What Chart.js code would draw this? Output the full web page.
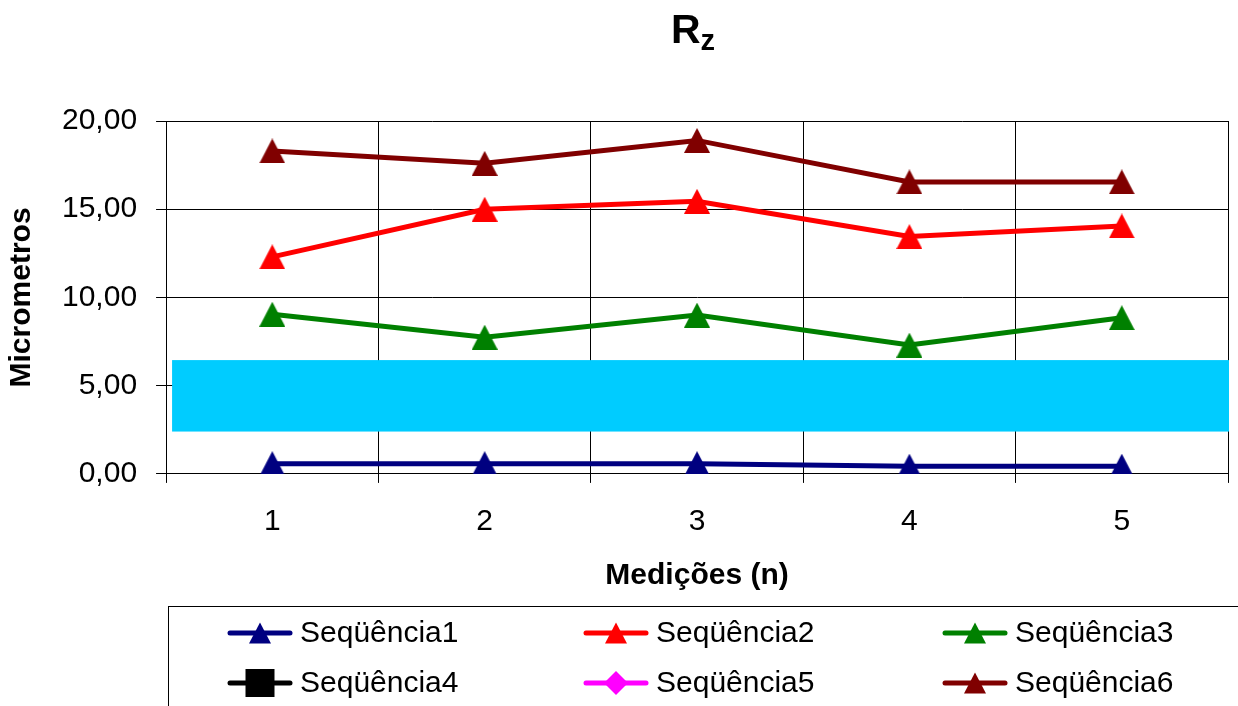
<!DOCTYPE html>
<html>
<head>
<meta charset="utf-8">
<title>Rz</title>
<script src="https://cdn.jsdelivr.net/npm/chart.js@4.4.1/dist/chart.umd.min.js"></script>
<style>
  html, body { margin: 0; padding: 0; background: #ffffff; }
  #wrap { width: 1238px; height: 706px; position: relative; overflow: hidden; }
</style>
</head>
<body>
<div id="wrap"><canvas id="chart" width="1238" height="706"></canvas></div>
<script>
// Measurement index (n)
const categories = ['1', '2', '3', '4', '5'];

// Rz values in micrometres per sequence
const seq1 = [0.58, 0.58, 0.58, 0.44, 0.44];
const seq2 = [12.3, 15.0, 15.45, 13.45, 14.05];
const seq3 = [9.05, 7.75, 9.0, 7.3, 8.85];
const seq4 = [];
const seq5 = [];
const seq6 = [18.3, 17.6, 18.9, 16.55, 16.55];

const seriesNames = ['Seqüência1', 'Seqüência2', 'Seqüência3', 'Seqüência4', 'Seqüência5', 'Seqüência6'];
const seriesColors = ['#000080', '#FF0000', '#008000', '#000000', '#FF00FF', '#800000'];
const seriesMarkers = ['triangle', 'triangle', 'triangle', 'square', 'diamond', 'triangle'];

const yTickLabels = ['0,00', '5,00', '10,00', '15,00', '20,00'];

// Cyan band across the plot, in axis units
const bandLow = 2.4;
const bandHigh = 6.45;

const FONT = "'Liberation Sans', Arial, Helvetica, sans-serif";
Chart.defaults.font.family = FONT;
Chart.defaults.color = '#000000';

function drawMarker(ctx, kind, color, cx, cy, w, h) {
  ctx.save();
  ctx.fillStyle = color;
  ctx.beginPath();
  if (kind === 'triangle') {
    ctx.moveTo(cx, cy - h / 2);
    ctx.lineTo(cx + w / 2, cy + h / 2);
    ctx.lineTo(cx - w / 2, cy + h / 2);
    ctx.closePath();
  } else if (kind === 'square') {
    ctx.rect(cx - w / 2, cy - h / 2, w, h);
  } else if (kind === 'diamond') {
    ctx.moveTo(cx, cy - h / 2);
    ctx.lineTo(cx + w / 2, cy);
    ctx.lineTo(cx, cy + h / 2);
    ctx.lineTo(cx - w / 2, cy);
    ctx.closePath();
  }
  ctx.fill();
  ctx.restore();
}

function markerImage(kind, color) {
  const w = 26, h = 25;
  const c = document.createElement('canvas');
  c.width = w; c.height = h;
  drawMarker(c.getContext('2d'), kind, color, w / 2, h / 2, w, h);
  return c;
}

const seriesData = [seq1, seq2, seq3, seq4, seq5, seq6];
const datasets = seriesData.map((d, i) => ({
  label: seriesNames[i],
  data: d,
  borderColor: seriesColors[i],
  backgroundColor: seriesColors[i],
  borderWidth: 5,
  tension: 0,
  pointStyle: markerImage(seriesMarkers[i], seriesColors[i]),
  pointRadius: 13,
  pointHoverRadius: 13,
  markerKind: seriesMarkers[i]
}));

// Title "R" with subscript "z"
const titlePlugin = {
  id: 'rzTitle',
  afterDraw(chart) {
    const { ctx, chartArea } = chart;
    ctx.save();
    ctx.fillStyle = '#000';
    ctx.textBaseline = 'alphabetic';
    ctx.font = 'bold 41px ' + FONT;
    const rW = ctx.measureText('R').width;
    ctx.font = 'bold 29px ' + FONT;
    const zW = ctx.measureText('z').width;
    const cx = (chartArea.left + chartArea.right) / 2 - 4;
    const x0 = cx - (rW + zW) / 2;
    ctx.font = 'bold 41px ' + FONT;
    ctx.fillText('R', x0, 43);
    ctx.font = 'bold 29px ' + FONT;
    ctx.fillText('z', x0 + rW, 50);
    ctx.restore();
  }
};

// Cyan band drawn over the plot area
const bandPlugin = {
  id: 'cyanBand',
  afterDatasetsDraw(chart) {
    const { ctx, chartArea, scales } = chart;
    const yTop = scales.y.getPixelForValue(bandHigh);
    const yBot = scales.y.getPixelForValue(bandLow);
    ctx.save();
    ctx.fillStyle = '#00CCFF';
    ctx.fillRect(chartArea.left + 6, yTop, chartArea.right + 1 - (chartArea.left + 6), yBot - yTop);
    ctx.restore();
  }
};

// Boxed three-column legend beneath the axis title
const legendPlugin = {
  id: 'boxLegend',
  afterDraw(chart) {
    const { ctx } = chart;
    const boxLeft = 168, boxTop = 606;
    ctx.save();
    ctx.strokeStyle = '#000';
    ctx.lineWidth = 1;
    ctx.strokeRect(boxLeft + 0.5, boxTop + 0.5, 1200, 200);
    const colX = [228, 584, 943];
    const rowY = [633, 683];
    ctx.font = '30px ' + FONT;
    ctx.textBaseline = 'middle';
    ctx.textAlign = 'left';
    chart.data.datasets.forEach((ds, i) => {
      const x = colX[i % 3];
      const y = rowY[Math.floor(i / 3)];
      ctx.strokeStyle = ds.borderColor;
      ctx.lineWidth = 5;
      ctx.lineCap = 'round';
      ctx.beginPath();
      ctx.moveTo(x + 2, y);
      ctx.lineTo(x + 62, y);
      ctx.stroke();
      const kind = ds.markerKind;
      if (kind === 'square') drawMarker(ctx, kind, ds.borderColor, x + 32, y, 29, 28);
      else if (kind === 'diamond') drawMarker(ctx, kind, ds.borderColor, x + 32, y, 24, 24);
      else drawMarker(ctx, kind, ds.borderColor, x + 32, y, 22, 21);
      ctx.fillStyle = '#000';
      ctx.fillText(ds.label, x + 72, y + 1);
    });
    ctx.restore();
  }
};

new Chart(document.getElementById('chart'), {
  type: 'line',
  data: { labels: categories, datasets: datasets },
  options: {
    responsive: false,
    devicePixelRatio: 1,
    animation: false,
    layout: { autoPadding: false, padding: { top: 121, right: 10, bottom: 109, left: 0 } },
    plugins: {
      legend: { display: false },
      title: { display: false },
      tooltip: { enabled: false }
    },
    scales: {
      x: {
        offset: true,
        grid: { offset: true, color: '#000', lineWidth: 1, tickLength: 9, tickColor: '#000' },
        border: { color: '#000', width: 1 },
        ticks: { font: { size: 30, lineHeight: 2.07 }, color: '#000', padding: 8 },
        title: {
          display: true, text: 'Medições (n)', color: '#000',
          font: { size: 30, weight: 'bold', lineHeight: 1 }, padding: { top: 0, bottom: 6 }
        }
      },
      y: {
        min: 0, max: 20,
        grid: { color: '#000', lineWidth: 1, tickLength: 10, tickColor: '#000' },
        border: { color: '#000', width: 1 },
        ticks: {
          stepSize: 5, font: { size: 30 }, color: '#000', padding: 19,
          callback: (v, i) => yTickLabels[i]
        },
        title: {
          display: true, text: 'Micrometros', color: '#000',
          font: { size: 30, weight: 'bold' }, padding: { top: 4, bottom: 3 }
        }
      }
    }
  },
  plugins: [bandPlugin, titlePlugin, legendPlugin]
});
</script>
</body>
</html>
